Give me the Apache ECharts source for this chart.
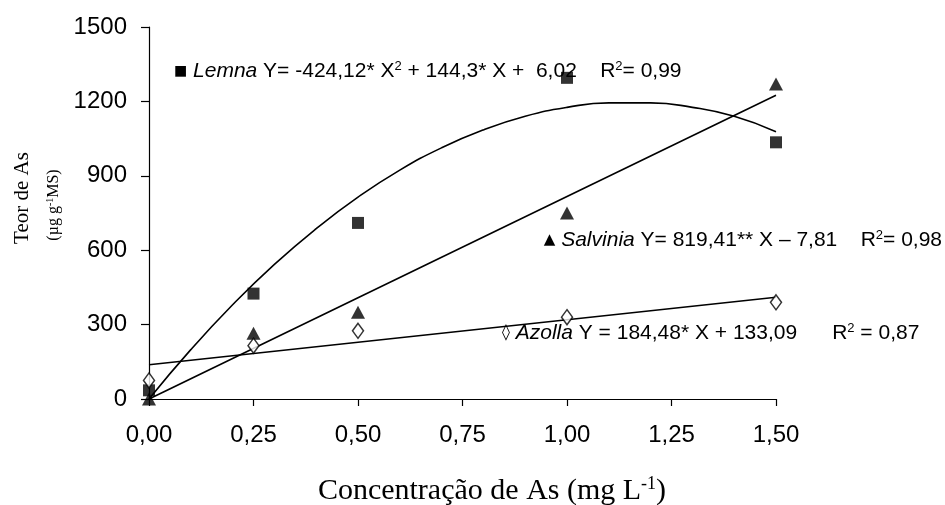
<!DOCTYPE html>
<html>
<head>
<meta charset="utf-8">
<script src="https://cdn.jsdelivr.net/npm/echarts@6/dist/echarts.min.js"></script>
<style>html,body{margin:0;padding:0;background:#fff;}#c{width:945px;height:505px;}</style>
</head>
<body>
<div id="c"></div>
<script>
// ---- data ----
const xTicks = [0, 0.25, 0.5, 0.75, 1.0, 1.25, 1.5];
const yTicks = [0, 300, 600, 900, 1200, 1500];
const doses = [0, 0.25, 0.5, 1.0, 1.5];
const lemna = [35, 425, 710, 1295, 1035];
const salvinia = [0, 265, 350, 750, 1270];
const azolla = [75, 215, 275, 330, 390];
// trend lines as drawn in the picture
const lemnaFitX = [0, 0.1, 0.2, 0.3, 0.4, 0.5, 0.6, 0.7, 0.8, 0.9, 1.0, 1.1, 1.2, 1.3, 1.4, 1.5];
const lemnaFitY = [0, 199, 380, 543, 687, 814, 923, 1013, 1085, 1140, 1176, 1194, 1194, 1176, 1140, 1078];
const salviniaFitX = [0, 1.5];
const salviniaFitY = [0, 1225];
const azollaFitX = [0, 1.5];
const azollaFitY = [138, 410];

const pair = (xs, ys) => xs.map((x, i) => [x, ys[i]]);
const chart = echarts.init(document.getElementById('c'));
const SANS = '"Liberation Sans", Arial, sans-serif';
const SERIF = '"Liberation Serif", "Times New Roman", serif';
const lineStyle = {color: '#000', width: 1.6};
const FS = 21;
const richBase = {
  i: {fontStyle: 'italic', fontSize: FS, fontFamily: SANS},
  s: {fontSize: 13, fontFamily: SANS, verticalAlign: 'top', padding: [0, 0, 10, 0]}
};

chart.setOption({
  animation: false,
  backgroundColor: '#fff',
  grid: {left: 149, right: 169, top: 27, bottom: 106, containLabel: false},
  xAxis: {
    type: 'value', min: 0, max: 1.5, interval: 0.25,
    axisLine: {lineStyle: {color: '#000', width: 1.2}},
    axisTick: {show: true, length: 7, lineStyle: {color: '#000', width: 1.2}},
    splitLine: {show: false},
    axisLabel: {color: '#000', fontFamily: SANS, fontSize: 24, margin: 24,
      formatter: v => xTicks.indexOf(v) >= 0 ? v.toFixed(2).replace('.', ',') : ''}
  },
  yAxis: {
    type: 'value', min: 0, max: 1500, interval: 300,
    axisLine: {show: true, lineStyle: {color: '#000', width: 1.2}},
    axisTick: {show: true, length: 8, lineStyle: {color: '#000', width: 1.2}},
    splitLine: {show: false},
    axisLabel: {color: '#000', fontFamily: SANS, fontSize: 24, margin: 22,
      formatter: v => yTicks.indexOf(v) >= 0 ? String(v) : ''}
  },
  series: [
    {type: 'line', data: pair(lemnaFitX, lemnaFitY), smooth: true, symbol: 'none', lineStyle, z: 2},
    {type: 'line', data: pair(salviniaFitX, salviniaFitY), symbol: 'none', lineStyle, z: 2},
    {type: 'line', data: pair(azollaFitX, azollaFitY), symbol: 'none', lineStyle, z: 2},
    {type: 'scatter', data: pair(doses, lemna), symbol: 'rect', symbolSize: 12,
      itemStyle: {color: '#000'}, z: 5},
    {type: 'scatter', data: pair(doses, salvinia), symbol: 'triangle', symbolSize: [14, 13],
      itemStyle: {color: '#000'}, z: 5},
    {type: 'scatter', data: pair(doses, azolla), symbol: 'diamond', symbolSize: [11, 15],
      itemStyle: {color: '#fff', borderColor: '#000', borderWidth: 1.5}, z: 6}
  ],
  graphic: [
    {type: 'text', x: 174, y: 71, z: 10, style: {
      text: '{m|■} {i|Lemna} Y= -424,12* X{s|2} + 144,3* X +  6,02    R{s|2}= 0,99',
      font: FS + 'px ' + SANS, fill: '#000', verticalAlign: 'middle',
      rich: Object.assign({m: {fontSize: 14, fontFamily: 'DejaVu Sans'}}, richBase)}},
    {type: 'text', x: 942, y: 240, z: 10, style: {
      text: '{m|▲} {i|Salvinia} Y= 819,41** X – 7,81    R{s|2}= 0,98',
      font: FS + 'px ' + SANS, fill: '#000', align: 'right', verticalAlign: 'middle',
      rich: Object.assign({m: {fontSize: 15, fontFamily: 'DejaVu Sans'}}, richBase)}},
    {type: 'text', x: 502, y: 333, z: 10, style: {
      text: '{m|◊} {i|Azolla} Y = 184,48* X + 133,09      R{s|2} = 0,87',
      font: FS + 'px ' + SANS, fill: '#000', verticalAlign: 'middle',
      rich: Object.assign({m: {fontSize: 16, fontFamily: 'DejaVu Sans'}}, richBase)}},
    {type: 'text', x: 22, y: 198, rotation: Math.PI / 2, z: 10, style: {
      text: 'Teor de As', font: '21px ' + SERIF, fill: '#000', align: 'center', verticalAlign: 'middle'}},
    {type: 'text', x: 54, y: 205, rotation: Math.PI / 2, z: 10, style: {
      text: '(µg g{s|-1}MS)', font: '16px ' + SERIF, fill: '#000', align: 'center', verticalAlign: 'middle',
      rich: {s: {fontSize: 10, fontFamily: SERIF, verticalAlign: 'top', padding: [0, 0, 8, 0]}}}},
    {type: 'text', x: 492, y: 491, z: 10, style: {
      text: 'Concentração de As (mg L{s|-1})', font: '30px ' + SERIF, fill: '#000', align: 'center', verticalAlign: 'middle',
      rich: {s: {fontSize: 18, fontFamily: SERIF, verticalAlign: 'top', padding: [0, 0, 14, 0]}}}}
  ]
});
</script>
</body>
</html>
